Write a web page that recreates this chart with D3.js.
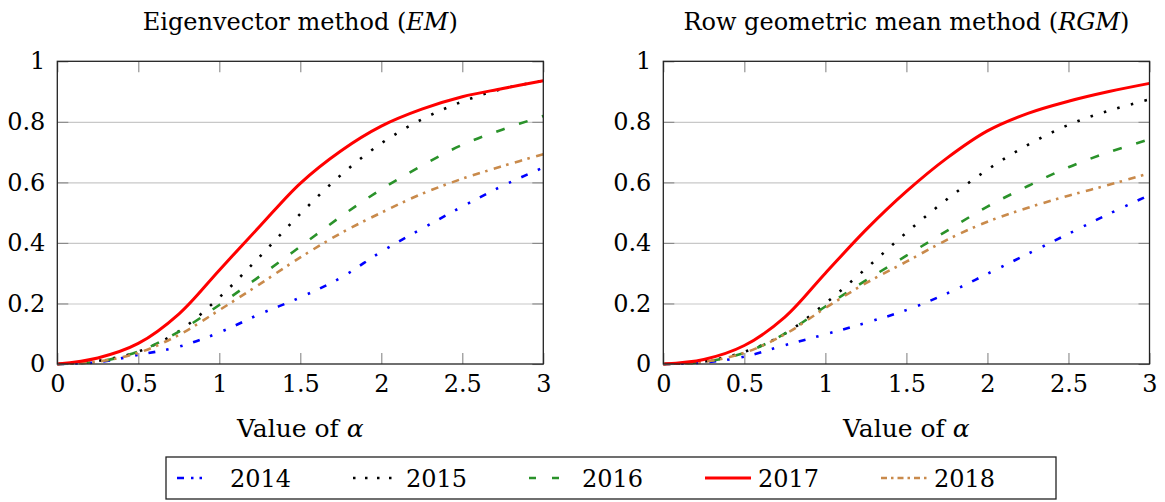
<!DOCTYPE html>
<html>
<head>
<meta charset="utf-8">
<script src="https://cdn.jsdelivr.net/npm/d3@7"></script>
<style>
  html, body { margin: 0; padding: 0; background: #fff; }
  svg { display: block; }
  svg text { font-family: "DejaVu Serif", "Liberation Serif", serif; fill: #000; }
</style>
</head>
<body>
<svg id="chart" width="1165" height="502"></svg>
<script>
// ---------------- data ----------------
const alpha = [0, 0.25, 0.5, 0.75, 1, 1.25, 1.5, 1.75, 2, 2.25, 2.5, 2.75, 3];
const years = ["2014", "2015", "2016", "2017", "2018"];

const em2014 = [0, .006, .03, .057, .104, .165, .22, .285, .371, .447, .52, .589, .649];
const em2015 = [0, .01, .041, .108, .22, .355, .496, .624, .729, .808, .867, .909, .936];
const em2016 = [0, .008, .041, .107, .195, .29, .388, .487, .577, .655, .724, .775, .819];
const em2017 = [0, .02, .068, .165, .31, .455, .597, .704, .786, .842, .883, .91, .936];
const em2018 = [0, .008, .037, .096, .178, .264, .352, .432, .5, .562, .612, .654, .693];

const rgm2014 = [0, .005, .024, .062, .098, .136, .178, .233, .298, .364, .43, .496, .558];
const rgm2015 = [0, .008, .04, .10, .2, .315, .434, .544, .642, .724, .79, .837, .874];
const rgm2016 = [0, .007, .037, .10, .19, .276, .358, .44, .52, .588, .65, .70, .742];
const rgm2017 = [0, .015, .061, .155, .3, .443, .57, .68, .77, .828, .868, .9, .927];
const rgm2018 = [0, .007, .037, .098, .185, .267, .338, .41, .47, .516, .556, .592, .63];

const xTicks = [0, 0.5, 1, 1.5, 2, 2.5, 3];
const yTicks = [0, 0.2, 0.4, 0.6, 0.8, 1];
const gridTicks = [0.2, 0.4, 0.6, 0.8];

// ---------------- styles ----------------
const styles = {
  "2014": { color: "#0000ff", dash: "7,11,2.5,12,2.5,11", width: 2.6, legDash: "7,7,2.5,6,2.5,100" },
  "2015": { color: "#000000", dash: "2.5,11.5", width: 2.6, legDash: "2.5,9.5" },
  "2016": { color: "#2a922a", dash: "9,15", width: 2.6, legDash: "7,16" },
  "2017": { color: "#ff0000", dash: null, width: 3, legDash: null },
  "2018": { color: "#c98a4b", dash: "7.5,5.5,2.5,6.5", width: 2.6, legDash: "6,4,2.5,4" }
};

const panels = [
  { title: ["Eigenvector method (", "EM", ")"], x0: 57.3, x1: 543.3,
    series: [em2014, em2015, em2016, em2017, em2018] },
  { title: ["Row geometric mean method (", "RGM", ")"], x0: 663.3, x1: 1149.5,
    series: [rgm2014, rgm2015, rgm2016, rgm2017, rgm2018] }
];

const FONT = "'DejaVu Serif', 'Liberation Serif', serif";
const yTop = 61.3, yBot = 364;
const svg = d3.select("#chart");
const fontSize = 24;

panels.forEach((p, pi) => {
  const x = d3.scaleLinear().domain([0, 3]).range([p.x0, p.x1]);
  const y = d3.scaleLinear().domain([0, 1]).range([yBot, yTop]);
  const g = svg.append("g");
  const W = p.x1 - p.x0;

  // grid
  g.append("g")
    .attr("transform", `translate(${p.x0},0)`)
    .call(d3.axisLeft(y).tickValues(gridTicks).tickSize(-W).tickFormat(""))
    .call(s => s.select(".domain").remove())
    .call(s => s.selectAll("line").attr("stroke", "#c8c8c8").attr("stroke-width", 1.1));

  // curves
  const line = d3.line().x((d, i) => x(alpha[i])).y(d => y(d)).curve(d3.curveCatmullRom.alpha(0.5));
  const order = [0, 1, 2, 4, 3];
  order.forEach(k => {
    const st = styles[years[k]];
    g.append("path")
      .datum(p.series[k])
      .attr("d", line)
      .attr("fill", "none")
      .attr("stroke", st.color)
      .attr("stroke-width", st.width)
      .attr("stroke-dasharray", st.dash)
      .attr("stroke-linecap", "butt");
  });

  // axes
  const tickCol = "#888";
  const bottom = g.append("g").attr("transform", `translate(0,${yBot})`)
    .call(d3.axisBottom(x).tickValues(xTicks).tickSizeInner(-11).tickSizeOuter(0).tickPadding(11).tickFormat(d3.format("")));
  const top = g.append("g").attr("transform", `translate(0,${yTop})`)
    .call(d3.axisTop(x).tickValues(xTicks).tickSizeInner(-11).tickSizeOuter(0).tickFormat(""));
  const left = g.append("g").attr("transform", `translate(${p.x0},0)`)
    .call(d3.axisLeft(y).tickValues(yTicks).tickSizeInner(-11).tickSizeOuter(0).tickPadding(12).tickFormat(d3.format("")));
  const right = g.append("g").attr("transform", `translate(${p.x1},0)`)
    .call(d3.axisRight(y).tickValues(yTicks).tickSizeInner(-11).tickSizeOuter(0).tickFormat(""));
  [bottom, top, left, right].forEach(a => {
    a.attr("font-family", FONT).attr("font-size", fontSize);
    a.select(".domain").remove();
    a.selectAll(".tick line").attr("stroke", tickCol).attr("stroke-width", 1.1);
    a.selectAll("text").attr("font-size", fontSize).attr("font-family", FONT).attr("fill", "#000");
  });
  bottom.selectAll("text").attr("dy", "0.71em");

  // frame
  g.append("rect").attr("x", p.x0).attr("y", yTop).attr("width", W).attr("height", yBot - yTop)
    .attr("fill", "none").attr("stroke", "#222").attr("stroke-width", 1.3);

  // title
  const cx = (p.x0 + p.x1) / 2;
  const t = g.append("text").attr("x", cx).attr("y", 30).attr("text-anchor", "middle")
    .attr("font-family", FONT).attr("font-size", 24);
  t.append("tspan").text(p.title[0]);
  t.append("tspan").attr("font-style", "italic").text(p.title[1]);
  t.append("tspan").text(p.title[2]);

  // x label
  const xl = g.append("text").attr("x", cx).attr("y", 437).attr("text-anchor", "middle")
    .attr("font-family", FONT).attr("font-size", 25);
  xl.append("tspan").text("Value of ");
  xl.append("tspan").attr("font-style", "italic").text("α");
});

// ---------------- legend ----------------
const legX = 166, legY = 457, legW = 890, legH = 42;
const leg = svg.append("g");
leg.append("rect").attr("x", legX).attr("y", legY).attr("width", legW).attr("height", legH)
  .attr("fill", "#fff").attr("stroke", "#222").attr("stroke-width", 1.3);
const itemX = d3.scalePoint().domain(years).range([177, 881]);
years.forEach(yr => {
  const st = styles[yr];
  const sx = itemX(yr);
  leg.append("line").attr("x1", sx).attr("x2", sx + 46).attr("y1", 478).attr("y2", 478)
    .attr("stroke", st.color).attr("stroke-width", st.width)
    .attr("stroke-dasharray", st.legDash);
  leg.append("text").attr("x", sx + 53).attr("y", 487).attr("font-family", FONT)
    .attr("font-size", fontSize).text(yr);
});
</script>
</body>
</html>
